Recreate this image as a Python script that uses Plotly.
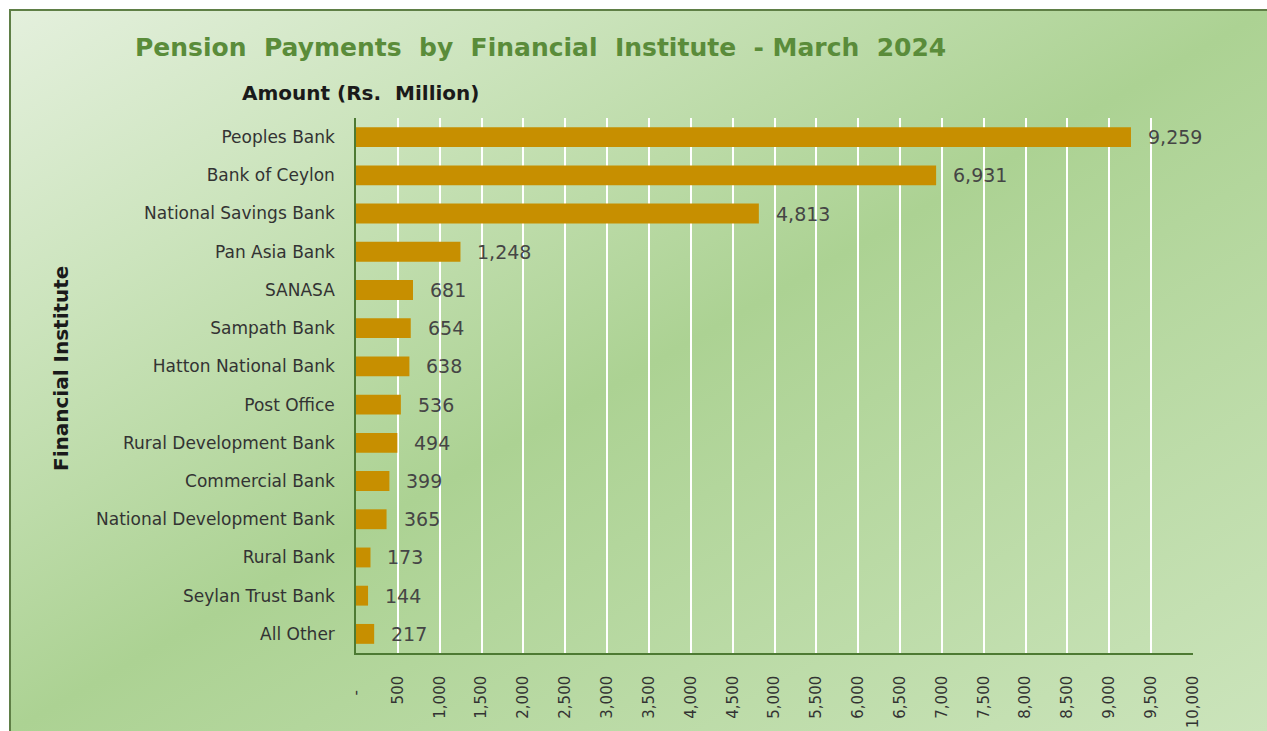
import base64
import plotly.graph_objects as go

# ---------------- data ----------------
institutes = [
    "Peoples Bank", "Bank of Ceylon", "National Savings Bank", "Pan Asia Bank",
    "SANASA", "Sampath Bank", "Hatton National Bank", "Post Office",
    "Rural Development Bank", "Commercial Bank", "National Development Bank",
    "Rural Bank", "Seylan Trust Bank", "All Other",
]
amounts = [9259, 6931, 4813, 1248, 681, 654, 638, 536, 494, 399, 365, 173, 144, 217]

x_tickvals = list(range(0, 10001, 500))
x_ticktext = ["-\u00a0\u00a0\u00a0", "500", "1,000", "1,500", "2,000", "2,500", "3,000",
              "3,500", "4,000", "4,500", "5,000", "5,500", "6,000", "6,500", "7,000",
              "7,500", "8,000", "8,500", "9,000", "9,500", "10,000"]

title_text = "Pension\u00a0 Payments\u00a0 by\u00a0 Financial\u00a0 Institute\u00a0 - March\u00a0 2024"
x_title = "Amount (Rs.\u00a0 Million)"
y_title = "Financial Institute"

# ---------------- layout geometry (screen pixels) ----------------
FW, FH = 1267, 731
PLOT_L, PLOT_R, PLOT_T, PLOT_B = 356, 1193, 118, 653
ML, MT = PLOT_L, PLOT_T
MR, MB = FW - PLOT_R, FH - PLOT_B
PW, PH = PLOT_R - PLOT_L, PLOT_B - PLOT_T


def px_x(sx):
    return (sx - PLOT_L) / PW


def px_y(sy):
    return (PLOT_B - sy) / PH


FONT = "DejaVu Sans, Liberation Sans, Arial, sans-serif"

fig = go.Figure()
fig.add_trace(go.Bar(
    y=institutes, x=amounts, orientation="h",
    marker=dict(color="#C78F00", line=dict(width=0)),
    width=0.52, hoverinfo="x+y",
))

annotations = []
for name, val in zip(institutes, amounts):
    annotations.append(dict(
        x=val, y=name, xref="x", yref="y", text=f"{val:,}", showarrow=False,
        xanchor="left", yanchor="middle", xshift=15,
        font=dict(family=FONT, size=19, color="#454545"),
    ))

annotations += [
    dict(x=px_x(540), y=px_y(48), xref="paper", yref="paper", text=f"<b>{title_text}</b>",
         showarrow=False, xanchor="center", yanchor="middle",
         font=dict(family=FONT, size=25, color="#5A8C3A")),
    dict(x=px_x(360), y=px_y(93), xref="paper", yref="paper", text=f"<b>{x_title}</b>",
         showarrow=False, xanchor="center", yanchor="middle",
         font=dict(family=FONT, size=20, color="#1a1a1a")),
    dict(x=px_x(61), y=px_y(369), xref="paper", yref="paper", text=f"<b>{y_title}</b>",
         showarrow=False, xanchor="center", yanchor="middle", textangle=-90,
         font=dict(family=FONT, size=20, color="#1a1a1a")),
]

# gradient background (decorative) as an inline SVG image
svg = (
    '<svg xmlns="http://www.w3.org/2000/svg" width="100" height="100" viewBox="0 0 100 100" '
    'preserveAspectRatio="none"><defs><linearGradient id="g" x1="0" y1="0" x2="1" y2="1">'
    '<stop offset="0" stop-color="#e4f0dd"/><stop offset="0.22" stop-color="#cce4bd"/>'
    '<stop offset="0.5" stop-color="#acd293"/>'
    '<stop offset="1" stop-color="#cbe4bb"/></linearGradient></defs>'
    '<rect width="100" height="100" fill="url(#g)"/></svg>'
)
src = "data:image/svg+xml;base64," + base64.b64encode(svg.encode()).decode()

fig.update_layout(
    width=FW, height=FH,
    margin=dict(l=ML, r=MR, t=MT, b=MB, autoexpand=False),
    paper_bgcolor="white", plot_bgcolor="rgba(0,0,0,0)",
    showlegend=False,
    font=dict(family=FONT, size=17, color="#333333"),
    annotations=annotations,
    images=[dict(source=src, xref="paper", yref="paper",
                 x=px_x(10), y=px_y(10), sizex=(FW - 10) / PW, sizey=(FH - 10) / PH,
                 xanchor="left", yanchor="top", sizing="stretch", layer="below")],
    shapes=[dict(type="rect", xref="paper", yref="paper",
                 x0=px_x(10), y0=px_y(790), x1=px_x(1330), y1=px_y(10),
                 line=dict(color="#5f7f46", width=2), fillcolor="rgba(0,0,0,0)", layer="below")],
)

fig.update_xaxes(
    range=[0, 10000], tickvals=x_tickvals, ticktext=x_ticktext, tickangle=-90,
    showgrid=True, gridcolor="white", gridwidth=1.5, zeroline=False,
    showline=True, linecolor="#4d7a33", linewidth=1.5,
    ticks="", ticklabelstandoff=15, automargin=False,
    tickfont=dict(family=FONT, size=15, color="#333333"),
)
fig.update_yaxes(
    autorange="reversed", showgrid=False, zeroline=False,
    showline=True, linecolor="#4d7a33", linewidth=1.5,
    ticks="", ticklabelstandoff=16, automargin=False,
    tickfont=dict(family=FONT, size=17, color="#333333"),
)

fig.write_html(
    "out.html",
    config={"displayModeBar": False},
    post_script="document.body.style.margin='0';document.body.style.overflow='hidden';",
)
